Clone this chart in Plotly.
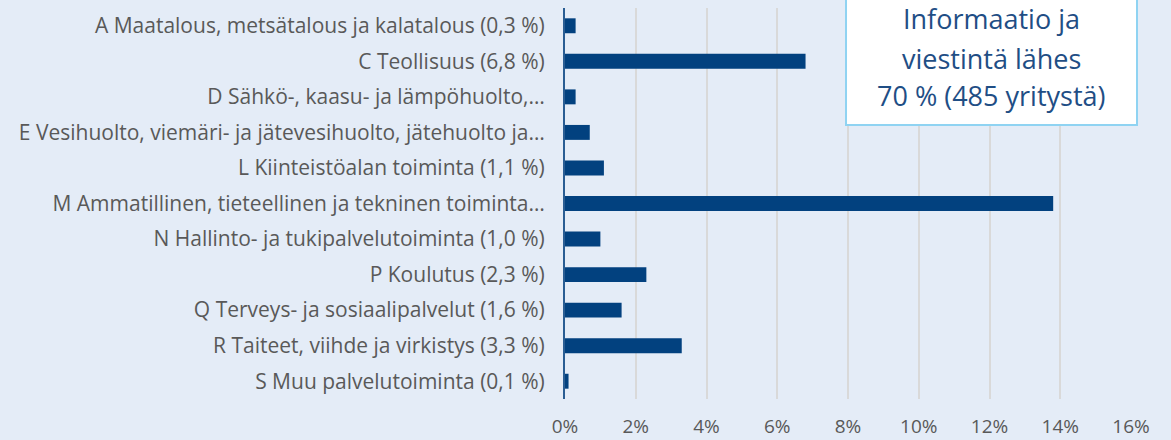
import plotly.graph_objects as go

categories = [
    "A Maatalous, metsätalous ja kalatalous (0,3 %)",
    "C Teollisuus (6,8 %)",
    "D Sähkö-, kaasu- ja lämpöhuolto,…",
    "E Vesihuolto, viemäri- ja jätevesihuolto, jätehuolto ja…",
    "L Kiinteistöalan toiminta (1,1 %)",
    "M Ammatillinen, tieteellinen ja tekninen toiminta…",
    "N Hallinto- ja tukipalvelutoiminta (1,0 %)",
    "P Koulutus (2,3 %)",
    "Q Terveys- ja sosiaalipalvelut (1,6 %)",
    "R Taiteet, viihde ja virkistys (3,3 %)",
    "S Muu palvelutoiminta (0,1 %)",
]
values = [0.003, 0.068, 0.003, 0.007, 0.011, 0.138, 0.010, 0.023, 0.016, 0.033, 0.001]
tick_vals = [0, 0.02, 0.04, 0.06, 0.08, 0.10, 0.12, 0.14, 0.16]
tick_text = ["0%", "2%", "4%", "6%", "8%", "10%", "12%", "14%", "16%"]
box_lines = ["Informaatio ja", "viestintä lähes", "70 % (485 yritystä)"]

BG = "#e4ecf7"
BAR = "#02417f"
FONT = "Open Sans"

fig = go.Figure(go.Bar(
    x=values, y=categories, orientation="h",
    marker=dict(color=BAR, line=dict(width=0)),
    hoverinfo="x+y",
))

fig.update_layout(
    width=1171, height=440,
    paper_bgcolor=BG, plot_bgcolor=BG,
    margin=dict(l=565, r=40, t=8, b=41),
    bargap=0.58,
    showlegend=False,
    font=dict(family=FONT, color="#595959", size=19),
    xaxis=dict(
        range=[0, 0.16], tickvals=tick_vals, ticktext=tick_text,
        showgrid=True, gridcolor="#d9d9d9", gridwidth=1.5,
        zeroline=False, showline=False, automargin=False,
        tickfont=dict(size=19, color="#595959", family=FONT),
        ticks="", ticklabelstandoff=14,
    ),
    yaxis=dict(
        autorange="reversed", showgrid=False, zeroline=False,
        showline=True, linecolor="#2a5d93", linewidth=2, automargin=False,
        ticks="", ticklabelstandoff=14,
        tickfont=dict(size=21, color="#595959", family=FONT),
    ),
)

fig.add_shape(type="rect", xref="paper", yref="paper",
              x0=0.4965, x1=1.0106, y0=0.7008, y1=1.05,
              fillcolor="white", line=dict(color="#8fd3f2", width=2), layer="above")

ys = [0.972, 0.872, 0.775]
for txt, yy in zip(box_lines, ys):
    fig.add_annotation(xref="paper", yref="paper", x=0.7527, y=yy,
                       text=txt, showarrow=False, xanchor="center", yanchor="middle",
                       font=dict(family=FONT, size=27, color="#1f4e85"))

fig.write_html(
    "out.html",
    config={"displayModeBar": False},
    post_script="document.body.style.margin='0';document.body.style.background='%s';" % BG,
)
